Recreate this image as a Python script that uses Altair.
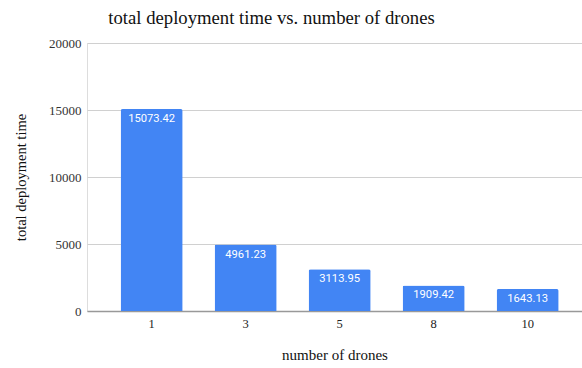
import altair as alt
import pandas as pd

drones = ["1", "3", "5", "8", "10"]
deploy_time = [15073.42, 4961.23, 3113.95, 1909.42, 1643.13]
y_ticks = [0, 2500, 5000, 7500, 10000, 12500, 15000, 17500, 20000]

df = pd.DataFrame({"drones": drones, "time": deploy_time})
df["label"] = [f"{v:.2f}" for v in deploy_time]

SERIF = "Liberation Serif"

x_enc = alt.X(
    "drones:N",
    sort=drones,
    title="number of drones",
    scale=alt.Scale(paddingInner=0.34, paddingOuter=0.303, align=0.59),
    axis=alt.Axis(
        labelAngle=0, ticks=False, labelPadding=6, labelFont=SERIF, labelFontSize=12.5,
        labelColor="#222", domainColor="#999", domainWidth=1.5,
        titleFont=SERIF, titleFontSize=15, titleFontWeight="normal", titleColor="#111",
        titleY=43, titleBaseline="middle",
    ),
)

y_enc = alt.Y(
    "time:Q",
    title="total deployment time",
    scale=alt.Scale(domain=[0, 20000], nice=False),
    axis=alt.Axis(
        values=y_ticks, ticks=False, domain=False, labelPadding=6,
        labelExpr="datum.value % 5000 === 0 ? datum.value : ''",
        labelFont=SERIF, labelFontSize=13, labelColor="#333",
        gridColor={"condition": {"test": "datum.value % 5000 === 0", "value": "#d0d0d0"}, "value": "#ebebeb"},
        titleFont=SERIF, titleFontSize=14.5, titleFontWeight="normal", titleColor="#111",
        titleX=-66, titleY=134, titleAlign="center", titleBaseline="middle",
    ),
)

bars = alt.Chart(df).mark_bar(
    color="#4285F4", cornerRadiusTopLeft=2, cornerRadiusTopRight=2
).encode(x=x_enc, y=y_enc)

labels = alt.Chart(df).mark_text(
    baseline="top", dy=4, color="white", font="Roboto", fontSize=11.2
).encode(x=alt.X("drones:N", sort=drones), y="time:Q", text="label:N")

chart = alt.layer(bars, labels).properties(
    width=495,
    height=268,
    title=alt.TitleParams(
        "total deployment time vs. number of drones",
        font=SERIF, fontSize=18.7, fontWeight="normal", color="#111",
        anchor="middle", dx=-63, dy=10, baseline="alphabetic", offset=4,
    ),
    autosize=alt.AutoSizeParams(type="none"),
    padding={"left": 87, "top": 43, "right": 0, "bottom": 57},
).configure_view(stroke=None).configure(background="white")

chart.save("out.html", embed_options={"renderer": "svg", "actions": False})
